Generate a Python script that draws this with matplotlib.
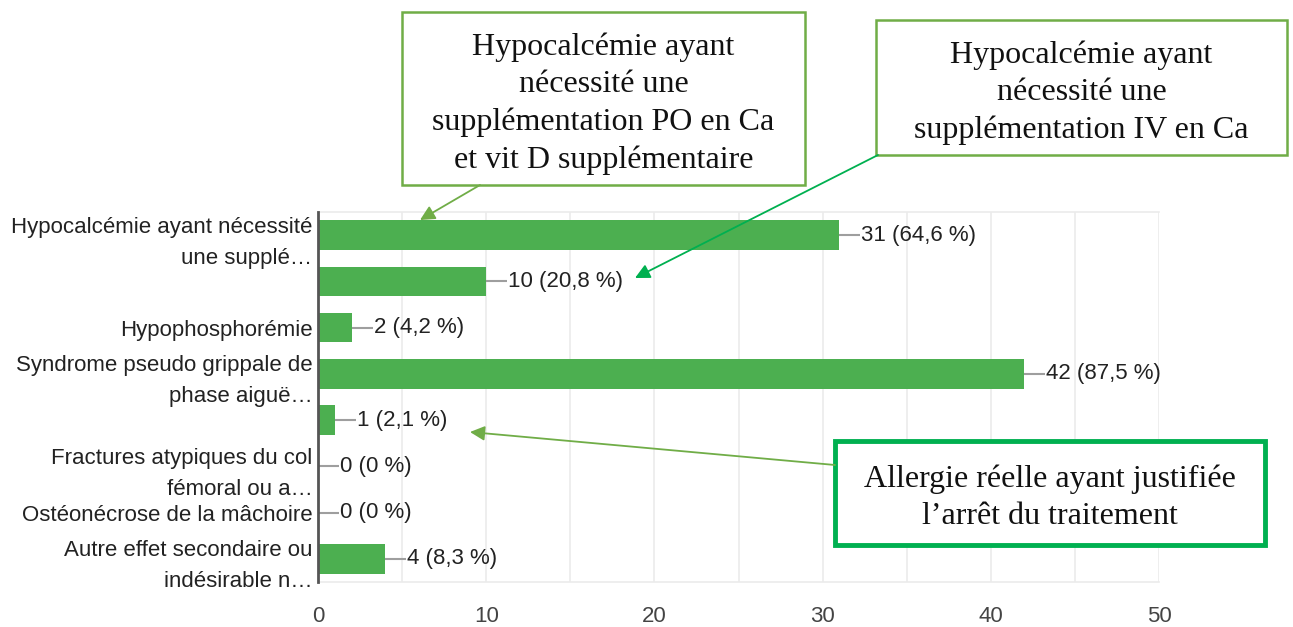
import matplotlib
matplotlib.use("Agg")
import matplotlib.pyplot as plt
from matplotlib.patches import Rectangle, FancyArrowPatch

categories = [
    "Hypocalcémie ayant nécessité\nune supplé…",
    "",
    "Hypophosphorémie",
    "Syndrome pseudo grippale de\nphase aiguë…",
    "",
    "Fractures atypiques du col\nfémoral ou a…",
    "Ostéonécrose de la mâchoire",
    "Autre effet secondaire ou\nindésirable n…",
]
counts = [31, 10, 2, 42, 1, 0, 0, 4]
percent_labels = ["64,6", "20,8", "4,2", "87,5", "2,1", "0", "0", "8,3"]
xticks = [0, 10, 20, 30, 40, 50]

box_texts = [
    "Hypocalcémie ayant\nnécessité une\nsupplémentation PO en Ca\net vit D supplémentaire",
    "Hypocalcémie ayant\nnécessité une\nsupplémentation IV en Ca",
    "Allergie réelle ayant justifiée\nl’arrêt du traitement",
]

W, H = 1293, 627
fig = plt.figure(figsize=(W / 100, H / 100), dpi=100)
ax = fig.add_axes([318 / W, 1 - 582 / H, (1159 - 318) / W, (582 - 212) / H])

bar_color = "#4caf50"
y = list(range(len(categories)))
ax.barh(y, counts, height=0.64, color=bar_color, zorder=3)
ax.set_xlim(0, 50)
ax.set_ylim(len(categories) - 0.5, -0.5)

# grid every 5
for g in range(5, 51, 5):
    ax.axvline(g, color="#ebebeb", lw=1.2, zorder=0)

FS = 16
ax.set_xticks(xticks)
ax.set_xticklabels([str(t) for t in xticks], fontsize=FS, color="#444444",
                   family="Liberation Sans")
ax.tick_params(axis="x", length=0, pad=17.5)
ax.set_yticks(y)
ax.set_yticklabels(categories, fontsize=FS, color="#222222",
                   family="Liberation Sans", linespacing=1.62)
ax.tick_params(axis="y", length=0, pad=4)

for s in ["top", "bottom", "right"]:
    ax.spines[s].set_color("#ebebeb")
    ax.spines[s].set_linewidth(1.2)
ax.spines["right"].set_visible(False)
ax.spines["left"].set_color("#555555")
ax.spines["left"].set_linewidth(2)
ax.spines["left"].set_zorder(5)

for i, (c, p) in enumerate(zip(counts, percent_labels)):
    ax.plot([c, c + 1.25], [i, i], color="#9e9e9e", lw=1.5, zorder=2,
            solid_capstyle="butt")
    ax.text(c + 1.3, i, f"{c} ({p} %)", va="center", ha="left",
            fontsize=FS, color="#222222", family="Liberation Sans")

# annotation boxes (figure pixel coordinates, origin bottom-left)
def px(x, yy):
    return (x / W, 1 - yy / H)

boxes = [
    (402, 12, 805, 185, "#70ad47", 1.8),
    (876, 20, 1287, 155, "#70ad47", 1.8),
    (835, 441, 1265, 545, "#00b050", 3.5),
]
for (x0, y0, x1, y1, col, lw), txt in zip(boxes, box_texts):
    fig.add_artist(Rectangle(px(x0, y1), (x1 - x0) / W, (y1 - y0) / H,
                             transform=fig.transFigure, facecolor="white",
                             edgecolor=col, lw=lw, zorder=10))
    cx, cy = px((x0 + x1) / 2, (y0 + y1) / 2 + 5)
    fig.text(cx, cy, txt, ha="center", va="center", fontsize=23,
             family="Liberation Serif", color="#111111", linespacing=1.37,
             zorder=11)

arrows = [
    ((480, 185), (420, 220), "#70ad47"),
    ((878, 155), (635, 278), "#00b050"),
    ((835, 465), (470, 432), "#70ad47"),
]
for start, end, col in arrows:
    fig.add_artist(FancyArrowPatch(px(*start), px(*end), transform=fig.transFigure,
                                   arrowstyle="-|>", mutation_scale=22,
                                   color=col, lw=1.3, zorder=12,
                                   shrinkA=0, shrinkB=0))

fig.savefig("out.png", dpi=100, facecolor="white")
